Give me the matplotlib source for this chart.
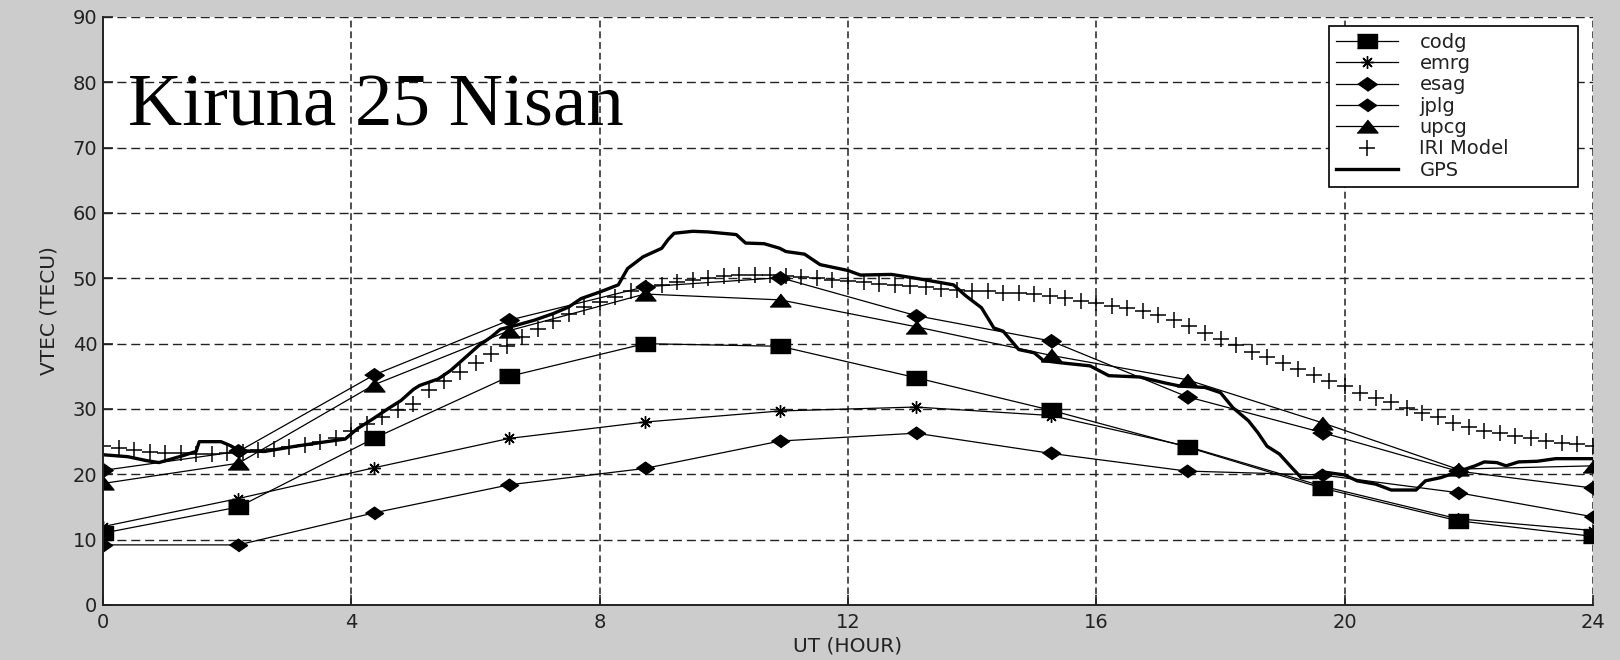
import numpy as np
import matplotlib
matplotlib.use('Agg')
import matplotlib.pyplot as plt

# model saatleri (12 nokta, 0-24 UT)
model_ut = np.linspace(0, 24, 12)
codg = [11.0, 15.0, 25.5, 35.0, 40.0, 39.6, 34.8, 29.8, 24.2, 17.9, 12.9, 10.5]
emrg = [12.0, 16.3, 21.0, 25.5, 28.0, 29.7, 30.3, 29.0, 24.3, 18.2, 13.2, 11.4]
esag = [20.6, 23.5, 35.2, 43.6, 48.7, 50.1, 44.3, 40.4, 31.9, 26.4, 20.5, 17.9]
jplg = [9.2, 9.2, 14.1, 18.4, 20.9, 25.1, 26.3, 23.2, 20.5, 19.9, 17.2, 13.5]
upcg = [18.6, 21.7, 33.7, 42.0, 47.6, 46.7, 42.6, 38.2, 34.5, 27.9, 20.8, 21.3]

# IRI modeli, 15 dakikalik adim
iri_ut = np.arange(0, 24.01, 0.25)
iri = [24.4, 24.1, 23.7, 23.4, 23.2, 23.2, 23.1, 23.1, 23.2, 23.4, 23.7, 23.9,
       24.2, 24.5, 25.0, 25.6, 26.7, 27.7, 28.8, 29.8, 30.8, 32.9, 34.3, 35.6,
       37.0, 38.4, 39.7, 41.0, 42.3, 43.4, 44.6, 45.6, 46.4, 47.2, 48.0, 48.5,
       49.0, 49.5, 49.8, 50.1, 50.3, 50.5, 50.5, 50.5, 50.4, 50.2, 50.0, 49.8,
       49.6, 49.4, 49.2, 49.0, 48.8, 48.6, 48.4, 48.2, 48.1, 48.0, 47.8, 47.7,
       47.6, 47.3, 47.0, 46.6, 46.3, 45.8, 45.4, 45.0, 44.4, 43.6, 42.7, 41.7,
       40.7, 39.8, 38.8, 37.9, 37.1, 36.1, 35.2, 34.3, 33.5, 32.5, 31.7, 31.0,
       30.2, 29.4, 28.7, 27.9, 27.2, 26.6, 26.3, 25.9, 25.5, 25.1, 24.8, 24.6,
       24.3]

# GPS VTEC
gps_ut = [0.0, 0.4, 0.7, 0.9, 1.05, 1.3, 1.5, 1.55, 1.9, 2.05, 2.2, 2.6, 3.1,
          3.6, 3.9, 4.1, 4.35, 4.6, 4.8, 5.0, 5.1, 5.4, 5.6, 5.85, 6.05, 6.25,
          6.4, 6.65, 6.95, 7.25, 7.5, 7.7, 8.0, 8.3, 8.45, 8.7, 9.0, 9.1, 9.2,
          9.5, 9.75, 10.2, 10.35, 10.65, 10.9, 11.0, 11.3, 11.55, 12.0, 12.2,
          12.7, 13.1, 13.4, 13.7, 13.9, 14.15, 14.35, 14.5, 14.75, 15.0, 15.15,
          15.4, 15.9, 16.2, 16.7, 17.1, 17.35, 17.75, 18.0, 18.2, 18.45, 18.6,
          18.75, 18.95, 19.15, 19.3, 19.55, 19.7, 20.0, 20.2, 20.5, 20.75,
          21.15, 21.3, 21.55, 21.85, 22.1, 22.25, 22.45, 22.6, 22.8, 23.1,
          23.4, 24.0]
gps = [23.0, 22.7, 22.1, 21.8, 22.2, 22.9, 23.5, 25.0, 25.0, 24.4, 23.6, 23.5,
       24.3, 25.0, 25.4, 27.0, 28.5, 30.1, 31.3, 33.0, 33.6, 34.6, 35.9, 38.0,
       39.7, 41.0, 42.2, 42.8, 43.6, 44.6, 45.6, 46.9, 47.9, 49.0, 51.5, 53.3,
       54.6, 55.9, 56.9, 57.2, 57.1, 56.7, 55.4, 55.3, 54.6, 54.1, 53.7, 52.1,
       51.2, 50.5, 50.6, 50.0, 49.5, 49.0, 47.3, 45.5, 42.4, 41.9, 39.1, 38.6,
       37.4, 37.1, 36.6, 35.1, 34.9, 34.0, 33.5, 33.3, 32.5, 30.2, 28.2, 26.4,
       24.3, 23.1, 21.0, 19.5, 19.5, 20.3, 19.9, 19.0, 18.5, 17.6, 17.6, 19.0,
       19.5, 20.5, 21.3, 21.9, 21.8, 21.3, 21.9, 22.0, 22.4, 22.4]

xticks = [0, 4, 8, 12, 16, 20, 24]
yticks = [0, 10, 20, 30, 40, 50, 60, 70, 80, 90]

# yatayda genis isaretler
sq = [(-1, -0.75), (1, -0.75), (1, 0.75), (-1, 0.75)]
dia = [(-1, 0), (0, 0.7), (1, 0), (0, -0.7)]
tri = [(-1, -0.62), (1, -0.62), (0, 0.62)]

plt.rcParams['font.family'] = ['DejaVu Sans']
fig = plt.figure(figsize=(16.2, 6.6), dpi=100, facecolor='#cccccc')
ax = fig.add_axes([103/1620, 55/660, 1490/1620, 588/660])
ax.set_facecolor('white')

kw = dict(color='black', lw=0.9, mfc='black', mec='black')
ax.plot(model_ut, codg, marker=sq, ms=14, label='codg', **kw)
ax.plot(model_ut, emrg, marker=(8, 2, 0), ms=9, mew=1.0, label='emrg', **kw)
ax.plot(model_ut, esag, marker=dia, ms=14, label='esag', **kw)
ax.plot(model_ut, jplg, marker=dia, ms=13, label='jplg', **kw)
ax.plot(model_ut, upcg, marker=tri, ms=15, label='upcg', **kw)
ax.plot(iri_ut, iri, ls='none', marker='+', ms=12, mew=1.1, color='black', label='IRI Model')
ax.plot(gps_ut, gps, color='black', lw=2.4, label='GPS')

ax.set_xlim(0, 24)
ax.set_ylim(0, 90)
ax.set_xticks(xticks)
ax.set_yticks(yticks)
ax.grid(False)
for x in xticks[1:]:
    ax.axvline(x, color='#222222', lw=1.1, ls=(0, (4.5, 2.5)), zorder=0.5)
for y in yticks[1:]:
    ax.axhline(y, color='#222222', lw=1.0, ls=(0, (6.5, 3.5)), zorder=0.5)

for s in ['top', 'right']:
    ax.spines[s].set_visible(False)
for s in ['left', 'bottom']:
    ax.spines[s].set_linewidth(1.4)
    ax.spines[s].set_color('#222222')
ax.tick_params(direction='in', length=7, width=1.2, labelsize=14,
               labelcolor='#222222', color='#222222', pad=4)
ax.tick_params(axis='x', pad=6)
ax.set_xlabel('UT (HOUR)', fontsize=14.5, color='#222222', labelpad=3)
ax.set_ylabel('VTEC (TECU)', fontsize=14.5, color='#222222', labelpad=10)

ax.text(0.4, 73.4, 'Kiruna 25 Nisan', family='Liberation Serif', fontsize=54,
        va='baseline', ha='left', color='black')

leg = ax.legend(loc='upper left', bbox_to_anchor=(0.8228, 0.70, 0.1671, 0.2847),
                mode='expand', numpoints=1, fontsize=14, handlelength=3.2,
                handletextpad=1.1, labelspacing=0.12, borderpad=0.35,
                fancybox=False, framealpha=1, edgecolor='black', borderaxespad=0)
leg.get_frame().set_linewidth(1.2)
for t in leg.get_texts():
    t.set_color('#222222')

fig.savefig('out.png', dpi=100, facecolor=fig.get_facecolor())
